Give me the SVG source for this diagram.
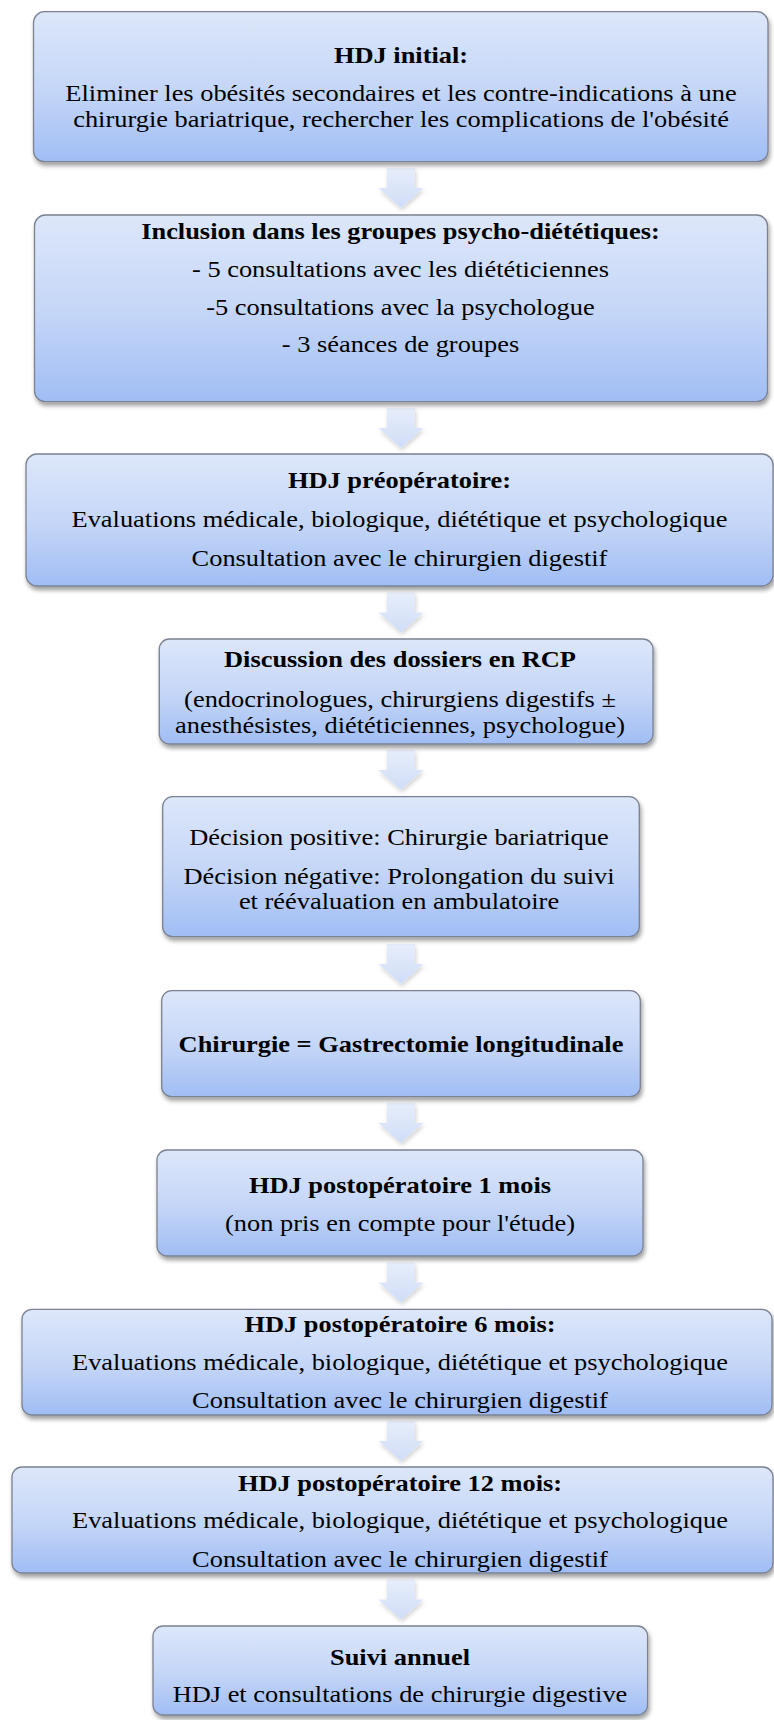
<svg xmlns="http://www.w3.org/2000/svg" width="774" height="1720" viewBox="0 0 774 1720">
<defs>
<linearGradient id="boxg" x1="0" y1="0" x2="0" y2="1">
<stop offset="0" stop-color="#dde7fa"/>
<stop offset="0.55" stop-color="#c3d5f7"/>
<stop offset="1" stop-color="#a0bdf4"/>
</linearGradient>
<linearGradient id="arrg" x1="0" y1="0" x2="0" y2="1">
<stop offset="0" stop-color="#e7eefb"/>
<stop offset="1" stop-color="#d0ddf7"/>
</linearGradient>
<filter id="sh" x="-10%" y="-20%" width="120%" height="150%">
<feDropShadow dx="1.5" dy="3.5" stdDeviation="2.2" flood-color="#000" flood-opacity="0.38"/>
</filter>
<filter id="ash" x="-30%" y="-30%" width="160%" height="160%">
<feDropShadow dx="1" dy="2.5" stdDeviation="2" flood-color="#000" flood-opacity="0.18"/>
</filter>
</defs>
<style>
.box{fill:url(#boxg);stroke:#7b8292;stroke-width:1.3;filter:url(#sh)}
.arr{fill:url(#arrg);stroke:none;filter:url(#ash)}
text{font-family:"Liberation Serif","Times New Roman",serif;font-size:24px;fill:#000;text-anchor:middle}
.b{font-weight:bold}
</style>
<g id="connectors">
<path class="arr" d="M387,168 H415 V188 H423.5 L401,208 L378.5,188 H387 Z"/>
<path class="arr" d="M387,408 H415 V428 H423.5 L401,448 L378.5,428 H387 Z"/>
<path class="arr" d="M387,592.5 H415 V612.5 H423.5 L401,632.5 L378.5,612.5 H387 Z"/>
<path class="arr" d="M387,750 H415 V770 H423.5 L401,790 L378.5,770 H387 Z"/>
<path class="arr" d="M387,944 H415 V964 H423.5 L401,984 L378.5,964 H387 Z"/>
<path class="arr" d="M387,1103 H415 V1123 H423.5 L401,1143 L378.5,1123 H387 Z"/>
<path class="arr" d="M387,1262.5 H415 V1282.5 H423.5 L401,1302.5 L378.5,1282.5 H387 Z"/>
<path class="arr" d="M387,1421 H415 V1441 H423.5 L401,1461 L378.5,1441 H387 Z"/>
<path class="arr" d="M387,1579.5 H415 V1599.5 H423.5 L401,1619.5 L378.5,1599.5 H387 Z"/>
</g>
<g id="n1">
<rect class="box" x="33.5" y="11.7" width="734.5" height="150" rx="11"/>
<text class="b" transform="translate(401,62.7) scale(1.1,1)">HDJ initial:</text>
<text transform="translate(401,101) scale(1.1,1)">Eliminer les obésités secondaires et les contre-indications à une</text>
<text transform="translate(401,127) scale(1.1,1)">chirurgie bariatrique, rechercher les complications de l'obésité</text>
</g>
<g id="n2">
<rect class="box" x="34.5" y="215" width="733" height="186.7" rx="11"/>
<text class="b" transform="translate(400.5,239.3) scale(1.1,1)">Inclusion dans les groupes psycho-diététiques:</text>
<text transform="translate(400.5,277) scale(1.1,1)">- 5 consultations avec les diététiciennes</text>
<text transform="translate(400.5,314.5) scale(1.1,1)">-5 consultations avec la psychologue</text>
<text transform="translate(400.5,352) scale(1.1,1)">- 3 séances de groupes</text>
</g>
<g id="n3">
<rect class="box" x="26" y="454" width="747" height="132" rx="11"/>
<text class="b" transform="translate(399.5,488) scale(1.1,1)">HDJ préopératoire:</text>
<text transform="translate(399.5,526.5) scale(1.1,1)">Evaluations médicale, biologique, diététique et psychologique</text>
<text transform="translate(399.5,565.5) scale(1.1,1)">Consultation avec le chirurgien digestif</text>
</g>
<g id="n4">
<rect class="box" x="159.3" y="639" width="493.7" height="105" rx="10"/>
<text class="b" transform="translate(400,667) scale(1.1,1)">Discussion des dossiers en RCP</text>
<text transform="translate(400,707) scale(1.1,1)">(endocrinologues, chirurgiens digestifs ±</text>
<text transform="translate(400,733) scale(1.1,1)">anesthésistes, diététiciennes, psychologue)</text>
</g>
<g id="n5">
<rect class="box" x="162.7" y="796.7" width="476.6" height="140" rx="10"/>
<text transform="translate(399,845) scale(1.1,1)">Décision positive: Chirurgie bariatrique</text>
<text transform="translate(399,883.5) scale(1.1,1)">Décision négative: Prolongation du suivi</text>
<text transform="translate(399,908.5) scale(1.1,1)">et réévaluation en ambulatoire</text>
</g>
<g id="n6">
<rect class="box" x="161.7" y="990.7" width="478.6" height="106" rx="10"/>
<text class="b" transform="translate(401,1051.7) scale(1.1,1)">Chirurgie = Gastrectomie longitudinale</text>
</g>
<g id="n7">
<rect class="box" x="157" y="1150" width="486" height="106" rx="10"/>
<text class="b" transform="translate(400,1192.5) scale(1.1,1)">HDJ postopératoire 1 mois</text>
<text transform="translate(400,1231) scale(1.1,1)">(non pris en compte pour l'étude)</text>
</g>
<g id="n8">
<rect class="box" x="22" y="1309.3" width="750" height="105.7" rx="10"/>
<text class="b" transform="translate(400,1331.7) scale(1.1,1)">HDJ postopératoire 6 mois:</text>
<text transform="translate(400,1370) scale(1.1,1)">Evaluations médicale, biologique, diététique et psychologique</text>
<text transform="translate(400,1408) scale(1.1,1)">Consultation avec le chirurgien digestif</text>
</g>
<g id="n9">
<rect class="box" x="12" y="1467" width="761" height="106" rx="10"/>
<text class="b" transform="translate(400,1491) scale(1.1,1)">HDJ postopératoire 12 mois:</text>
<text transform="translate(400,1528) scale(1.1,1)">Evaluations médicale, biologique, diététique et psychologique</text>
<text transform="translate(400,1567) scale(1.1,1)">Consultation avec le chirurgien digestif</text>
</g>
<g id="n10">
<rect class="box" x="153" y="1626" width="494.6" height="89" rx="10"/>
<text class="b" transform="translate(400,1665) scale(1.1,1)">Suivi annuel</text>
<text transform="translate(400,1701.7) scale(1.1,1)">HDJ et consultations de chirurgie digestive</text>
</g>
</svg>
